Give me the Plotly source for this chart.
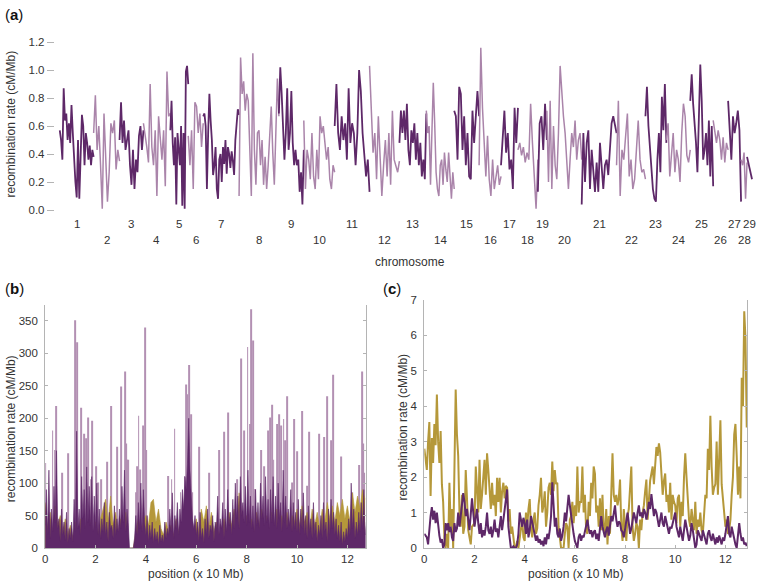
import numpy as np
import plotly.graph_objects as go

W, H = 758, 586
FONT = "Liberation Sans, Arial, sans-serif"
DARK = "#5e2868"
LIGHT = "#aa84aa"
GOLD = "#b5983a"
LAV = "#b390b3"
AXC = "#b4b4b4"
TXT = "#333333"

# ---------------- panel (a): chromosome-wise recombination rate ----------------
chrom_labels = [str(i) for i in range(1, 30)]
chrom_len = [34, 26, 24, 27, 18, 15, 36, 40, 25, 31, 35, 30, 27, 28, 25, 22, 17, 20, 9,
             35, 35, 29, 21, 24, 23, 15, 13, 6, 5]
chr01 = [0.57, 0.50, 0.36, 0.87, 0.64, 0.69, 0.50, 0.62, 0.48, 0.75, 0.55, 0.36, 0.20, 0.09,
         0.50, 0.08, 0.46, 0.68, 0.60, 0.32, 0.55, 0.48, 0.36, 0.46, 0.32, 0.43, 0.38]
chr02 = [0.55, 0.82, 0.43, 0.60, 0.32, 0.01, 0.69, 0.36, 0.06, 0.27, 0.62, 0.55, 0.64, 0.29, 0.43, 0.35]
chr03 = [0.50, 0.77, 0.48, 0.64, 0.43, 0.50, 0.57, 0.32, 0.18, 0.43, 0.15, 0.36, 0.27, 0.53, 0.60, 0.43, 0.57]
chr04 = [0.62, 0.55, 0.45, 0.34, 0.90, 0.45, 0.32, 0.57, 0.10, 0.67, 0.48, 0.36, 0.57, 0.17, 0.99, 0.67, 0.69]
chr05 = [0.57, 0.78, 0.48, 0.32, 0.52, 0.04, 0.55, 0.41, 0.32, 0.60, 0.03, 0.55, 0.01, 0.99, 1.03, 0.90]
chr06 = [0.53, 0.32, 0.57, 0.15, 0.77, 0.74, 0.55, 0.69, 0.45, 0.62]
chr07 = [0.67, 0.69, 0.60, 0.15, 0.55, 0.83, 0.64, 0.50, 0.25, 0.32, 0.45, 0.15, 0.08, 0.36, 0.40,
         0.20, 0.45, 0.33, 0.50, 0.26, 0.45, 0.40, 0.30, 0.42, 0.35, 0.25, 0.50, 0.60, 0.72, 0.68]
chr08 = [0.10, 1.09, 0.83, 0.92, 0.71, 0.83, 0.78, 0.40, 0.10, 1.12, 0.43, 0.18, 0.55, 0.57, 0.32,
         0.50, 0.18, 0.38, 0.15, 0.32, 0.55, 0.74, 0.41, 0.18, 0.55, 0.94, 0.67]
chr09 = [0.69, 1.02, 0.83, 0.57, 0.36, 0.55, 0.87, 0.43, 0.55, 0.85, 0.48, 0.32, 0.43, 0.32, 0.36,
         0.13, 0.27, 0.04, 0.43]
chr10 = [0.64, 0.15, 0.43, 0.36, 0.22, 0.55, 0.24, 0.15, 0.43, 0.22, 0.67, 0.55, 0.60, 0.48, 0.36,
         0.45, 0.22, 0.15, 0.32, 0.27]
chr11 = [0.60, 0.90, 0.55, 0.43, 0.67, 0.50, 0.62, 0.36, 0.87, 0.48, 0.62, 0.55, 0.32, 0.55, 1.00,
         0.85, 0.55, 0.41, 0.24, 0.36, 0.13]
chr12 = [1.03, 0.67, 0.41, 0.55, 0.22, 0.67, 0.32, 0.10, 0.32, 0.50, 0.24, 0.55, 0.18, 0.71, 0.36,
         0.32, 0.27, 0.35]
chr13 = [0.48, 0.71, 0.55, 0.71, 0.50, 0.76, 0.43, 0.32, 0.57, 0.48, 0.62, 0.36, 0.55, 0.32, 0.48,
         0.24, 0.36, 0.22, 0.69]
chr14 = [0.71, 0.55, 0.60, 0.18, 0.55, 0.91, 0.62, 0.27, 0.15, 0.10, 0.32, 0.36, 0.18, 0.41, 0.29,
         0.20, 0.41, 0.24, 0.08, 0.27, 0.15]
chr15 = [0.71, 0.67, 0.36, 0.88, 0.83, 0.43, 0.67, 0.32, 0.55, 0.24, 0.22, 0.71, 0.48, 0.64, 0.85, 0.67]
chr16 = [0.32, 1.16, 0.73, 0.43, 0.24, 0.53, 0.22, 0.10, 0.36, 0.15, 0.22, 0.32, 0.18, 0.24]
chr17 = [0.32, 0.57, 0.71, 0.41, 0.55, 0.29, 0.36, 0.15, 0.73, 0.48, 0.73]
chr18 = [0.43, 0.48, 0.39, 0.45, 0.34, 0.41, 0.36, 0.76, 0.48, 0.22, 0.01, 0.36]
chr19 = [0.13, 0.62, 0.67, 0.43, 0.76, 0.50]
chr20 = [0.71, 0.20, 0.78, 0.15, 0.60, 0.32, 0.22, 0.55, 1.03, 0.83, 0.67, 0.55, 0.32, 0.15, 0.36,
         0.55, 0.45, 0.64, 0.36, 0.50, 0.55, 0.36]
chr21 = [0.04, 0.55, 0.20, 0.48, 0.57, 0.15, 0.43, 0.27, 0.13, 0.34, 0.13, 0.48, 0.27, 0.15, 0.32,
         0.36, 0.25, 0.43, 0.62, 0.67, 0.60, 0.55]
chr22 = [0.32, 0.78, 0.10, 0.43, 0.36, 0.55, 0.69, 0.24, 0.36, 0.15, 0.22, 0.43, 0.64, 0.36, 0.27,
         0.29, 0.22]
chr23 = [0.67, 0.88, 0.60, 0.43, 0.24, 0.15, 0.08, 0.06, 0.36, 0.55, 0.27, 0.81, 0.57, 0.90, 0.48]
chr24 = [0.50, 0.62, 0.24, 0.43, 0.55, 0.27, 0.43, 0.36, 0.20, 0.55, 0.76, 0.67, 0.39, 0.34, 0.43]
chr25 = [0.78, 0.97, 0.76, 0.64, 0.48, 0.27, 0.71, 1.04, 0.78, 0.36, 0.43, 0.55, 0.32, 0.64, 0.24,
         0.60, 0.17]
chr26 = [0.64, 0.55, 0.48, 0.57, 0.50, 0.36, 0.52, 0.34, 0.48, 0.43]
chr27 = [0.78, 0.55, 0.36, 0.67, 0.55, 0.62, 0.71, 0.57, 0.06]
chr28 = [0.36, 0.32, 0.41, 0.08, 0.34]
chr29 = [0.38, 0.30, 0.22]
chrom_rates = [chr01, chr02, chr03, chr04, chr05, chr06, chr07, chr08, chr09, chr10,
               chr11, chr12, chr13, chr14, chr15, chr16, chr17, chr18, chr19, chr20,
               chr21, chr22, chr23, chr24, chr25, chr26, chr27, chr28, chr29]
a_yticks = [0.0, 0.2, 0.4, 0.6, 0.8, 1.0, 1.2]

# ---------------- panel (b): fine-scale rates (step 0.05 x 10 Mb) ----------------
b_step = 0.05
b_dark = [35, 90, 20, 120, 15, 60, 25, 95, 40, 150, 30, 45, 10, 60, 20, 40, 12, 55, 8, 30,
          15, 40, 10, 75, 25, 180, 30, 60, 20, 110, 45, 90, 30, 125, 40, 95, 35, 110, 25, 80,
          30, 100, 20, 60, 15, 45, 25, 70, 20, 40, 10, 55, 30, 35, 15, 65, 20, 45, 25, 60,
          30, 95, 40, 120, 25, 60, 35, 0, 0, 0, 0, 15, 50, 20, 70, 30, 100, 25, 90, 40,
          20, 50, 10, 35, 15, 40, 8, 30, 12, 25, 5, 35, 10, 20, 8, 40, 15, 30, 20, 60,
          25, 85, 15, 50, 30, 70, 20, 60, 40, 90, 60, 110, 90, 130, 200, 120, 80, 45, 30, 50,
          20, 40, 10, 55, 15, 30, 8, 45, 20, 60, 15, 35, 25, 50, 10, 40, 30, 80, 20, 45,
          30, 70, 15, 60, 25, 90, 35, 55, 20, 75, 30, 100, 45, 80, 30, 110, 50, 70, 40, 95,
          35, 120, 40, 80, 30, 65, 25, 90, 35, 70, 30, 100, 45, 80, 35, 110, 40, 75, 30, 90,
          40, 110, 35, 80, 30, 100, 45, 70, 25, 120, 40, 80, 30, 60, 35, 90, 25, 70, 30, 55,
          25, 75, 20, 60, 30, 85, 20, 50, 15, 65, 25, 45, 15, 70, 20, 40, 10, 35, 20, 50,
          15, 70, 25, 40, 10, 60, 20, 75, 30, 55, 20, 45, 15, 35, 10, 40, 5, 25, 10, 30,
          15, 45, 20, 100, 30, 60, 15, 40, 20, 55, 25, 70, 30, 90, 20, 40]
b_gold_step = 0.1
b_gold = [70, 30, 55, 20, 65, 35, 50, 25, 45, 20,
          35, 15, 40, 20, 45, 15, 35, 20, 40, 15,
          40, 20, 45, 60, 75, 40, 80, 35, 55, 25,
          45, 30, 55, 0, 0, 0, 25, 45, 30, 40,
          50, 35, 70, 75, 40, 60, 30, 20, 40, 25,
          35, 20, 45, 25, 40, 20, 35, 25, 40, 20,
          45, 25, 60, 40, 65, 30, 55, 25, 40, 20,
          30, 45, 25, 55, 35, 60, 40, 85, 45, 30,
          50, 30, 45, 25, 55, 35, 60, 30, 50, 25,
          55, 35, 60, 40, 50, 30, 55, 35, 50, 40,
          60, 35, 65, 40, 55, 30, 60, 35, 55, 30,
          60, 40, 70, 45, 65, 40, 70, 50, 75, 45,
          65, 40, 85, 55, 80, 60, 90, 75]
lav_pos = [0.02, 0.30, 0.40, 0.44, 0.67, 0.90, 1.20, 1.26, 1.42, 1.55, 1.62, 1.72, 1.82, 1.88,
           2.02, 2.11, 2.22, 2.45, 2.61, 2.87, 3.03, 3.18, 3.20, 3.26, 3.31, 3.60, 3.64, 3.71,
           3.77, 3.89, 3.97, 4.00, 4.90, 5.02, 5.14, 5.38, 5.54, 5.60, 5.64, 5.71, 5.78, 5.84,
           6.11, 6.50, 6.89, 7.10, 7.26, 7.62, 7.78, 7.89, 8.04, 8.15, 8.18, 8.24, 8.35, 8.57,
           8.68, 8.84, 8.94, 9.01, 9.07, 9.20, 9.30, 9.38, 9.47, 9.54, 9.60, 9.80, 9.90, 10.02,
           10.19, 10.39, 10.48, 10.89, 11.09, 11.18, 11.35, 11.42, 11.75, 12.17, 12.46, 12.57,
           12.61, 12.68]
lav_h = [131, 181, 151, 219, 116, 146, 351, 317, 216, 176, 169, 201, 106, 196,
         126, 101, 106, 133, 219, 156, 249, 272, 161, 136, 136, 86, 126, 204,
         121, 189, 340, 151, 111, 106, 184, 86, 111, 252, 237, 282, 206, 86,
         156, 116, 151, 179, 209, 106, 292, 181, 310, 191, 368, 320, 91, 151,
         126, 181, 201, 221, 136, 191, 206, 189, 199, 166, 234, 101, 199, 149,
         211, 96, 179, 176, 171, 234, 166, 267, 141, 86, 128, 272,
         161, 116]
b_yticks = [0, 50, 100, 150, 200, 250, 300, 350]
pos_ticks = [0, 2, 4, 6, 8, 10, 12]

# ---------------- panel (c): smoothed rates (step 0.05 x 10 Mb) ----------------
c_step = 0.05
c_gold = [2.8, 2.5, 2.2, 3.0, 3.55, 1.47, 3.1, 2.4, 3.5, 2.9, 4.33, 3.0, 2.4, 3.3, 1.8, 1.3, 0.3, 0.0, 0.4, 0.0,
          1.84, 0.6, 1.1, 0.0, 2.0, 4.47, 3.2, 2.6, 1.0, 0.6, 1.5, 0.4, 0.6, 2.2, 1.4, 0.5, 0.3, 0.1, 0.6, 0.65,
          0.7, 2.3, 1.5, 1.0, 2.49, 1.1, 1.5, 2.0, 2.49, 1.5, 2.67, 2.2, 1.5, 1.1, 1.84, 1.2, 1.5, 0.9, 1.98, 1.3,
          1.98, 1.0, 1.6, 1.84, 1.4, 1.75, 1.7, 0.75, 1.1, 0.4, 0.6, 0.3, 0.0, 0.0, 0.2, 0.0, 0.3, 0.55, 0.8, 0.3,
          0.2, 1.0, 0.6, 1.1, 1.38, 0.55, 0.3, 0.8, 1.0, 0.4, 0.55, 1.2, 1.5, 1.98, 1.0, 1.2, 1.6, 0.6, 1.0, 1.7,
          1.84, 1.5, 2.44, 1.6, 2.2, 1.8, 1.84, 0.6, 0.2, 0.0, 0.0, 0.0, 0.4, 0.7, 0.6, 0.0, 0.8, 0.9, 1.3, 0.7,
          1.2, 0.9, 2.3, 1.0, 1.3, 1.3, 2.3, 1.0, 1.5, 0.5, 0.4, 1.3, 0.9, 1.84, 1.4, 2.3, 2.1, 1.0, 1.2, 0.6,
          1.4, 0.5, 1.5, 0.5, 0.4, 1.1, 0.1, 0.9, 0.4, 1.5, 2.67, 1.5, 1.3, 1.5, 1.2, 1.4, 1.93, 0.6, 0.2, 1.1,
          0.6, 0.2, 0.9, 1.1, 1.7, 2.3, 0.6, 0.2, 0.4, 0.7, 0.6, 0.0, 0.8, 0.5, 1.0, 1.2, 1.6, 1.93, 0.8, 1.5,
          1.9, 2.1, 2.3, 1.8, 2.4, 2.85, 2.6, 2.95, 2.7, 2.0, 1.5, 1.9, 2.1, 1.3, 1.5, 1.0, 1.84, 0.8, 1.5, 1.3,
          1.2, 0.7, 1.4, 1.5, 0.6, 1.3, 0.9, 2.0, 2.67, 2.0, 1.2, 0.8, 0.6, 1.1, 0.8, 0.5, 1.3, 0.4, 0.8, 0.6,
          1.0, 0.5, 0.4, 1.1, 1.5, 1.4, 2.8, 2.2, 3.73, 2.3, 1.5, 1.7, 1.8, 3.0, 1.5, 2.5, 3.6, 1.8, 1.4, 1.0,
          0.6, 0.8, 0.4, 0.5, 0.8, 1.5, 2.0, 3.2, 3.5, 2.6, 1.5, 2.3, 1.4, 4.8, 4.0, 6.68, 5.9, 3.4]
c_purple = [0.40, 0.35, 0.30, 0.10, 0.55, 0.90, 1.15, 0.80, 1.05, 0.70, 1.00, 0.60, 0.35, 0.15, 0.25, 0.00, 0.10, 0.70, 0.50, 0.70,
            0.45, 0.60, 0.30, 0.20, 0.70, 0.45, 0.55, 1.00, 0.60, 0.90, 1.20, 1.55, 1.30, 0.90, 1.10, 0.80, 0.50, 0.95, 1.40, 1.00,
            0.60, 0.85, 1.10, 0.70, 0.40, 0.70, 0.30, 0.50, 0.35, 0.60, 1.00, 0.50, 0.40, 0.60, 0.30, 0.50, 0.80, 0.45, 0.55, 0.30,
            0.60, 0.90, 0.50, 0.80, 1.10, 1.30, 1.65, 0.60, 0.20, 0.00, 0.00, 0.05, 0.00, 0.00, 0.10, 0.40, 1.00, 0.80, 0.60, 0.85,
            0.70, 0.40, 0.80, 0.30, 0.50, 0.90, 0.70, 0.60, 0.30, 0.20, 0.35, 0.15, 0.25, 0.10, 0.20, 0.05, 0.30, 0.10, 0.40, 0.25,
            0.50, 0.90, 1.85, 1.00, 0.60, 0.85, 0.40, 0.30, 0.55, 0.20, 0.35, 0.60, 1.00, 0.75, 1.20, 1.50, 1.20, 0.90, 0.60, 0.40,
            0.20, 0.10, 0.00, 0.30, 0.40, 0.20, 0.35, 0.30, 0.45, 0.60, 0.80, 0.55, 0.40, 0.50, 0.30, 0.45, 0.50, 0.25, 0.40, 0.20,
            0.55, 0.90, 0.60, 0.40, 0.30, 0.50, 0.60, 0.35, 0.70, 0.90, 0.75, 1.00, 1.20, 0.80, 0.60, 0.75, 0.70, 0.50, 0.45, 0.30,
            0.55, 0.80, 1.00, 0.70, 0.40, 0.55, 0.80, 1.00, 0.85, 0.70, 1.00, 1.20, 0.90, 1.00, 0.85, 1.10, 1.00, 0.80, 1.00, 1.30,
            1.10, 1.52, 1.20, 0.90, 1.10, 1.00, 0.80, 0.60, 0.80, 1.00, 0.70, 0.60, 0.90, 0.75, 0.60, 0.40, 0.60, 0.55, 0.70, 0.90,
            1.00, 0.60, 0.40, 0.30, 0.60, 0.40, 0.20, 0.50, 0.80, 0.60, 0.40, 0.20, 0.35, 0.70, 0.50, 0.20, 0.00, 0.10, 0.50, 0.40,
            0.30, 0.20, 0.50, 0.35, 0.20, 0.10, 0.40, 0.50, 0.30, 0.20, 0.40, 0.20, 0.10, 0.30, 0.15, 0.35, 0.20, 0.10, 0.30, 0.20,
            0.40, 0.60, 0.90, 0.40, 0.30, 0.60, 0.40, 0.20, 0.10, 0.00, 0.30, 0.70, 0.40, 0.20, 0.30, 0.10, 0.15, 0.05]
c_yticks = [0, 1, 2, 3, 4, 5, 6, 7]


def fx(px):
    return px / W


def fy(py):
    return 1 - py / H


fig = go.Figure()

# panel (a)
starts = np.concatenate([[0], np.cumsum(chrom_len)[:-1]])
for i, vals in enumerate(chrom_rates):
    xs = np.linspace(starts[i], starts[i] + chrom_len[i], len(vals))
    odd = (i % 2 == 0)
    fig.add_trace(go.Scatter(x=xs, y=vals, mode="lines", xaxis="x", yaxis="y",
                             line=dict(color=DARK if odd else LIGHT, width=1.8 if odd else 1.5),
                             showlegend=False, hoverinfo="skip"))

# panel (b)
fig.add_trace(go.Bar(x=lav_pos, y=lav_h, width=0.035, xaxis="x2", yaxis="y2",
                     marker=dict(color=LAV, line=dict(width=0)), showlegend=False))
bg_x = np.arange(len(b_gold)) * b_gold_step
fig.add_trace(go.Scatter(x=bg_x, y=b_gold, mode="lines", fill="tozeroy", xaxis="x2", yaxis="y2",
                         line=dict(color=GOLD, width=0.6), fillcolor=GOLD, showlegend=False))
bd_x = np.arange(len(b_dark)) * b_step
fig.add_trace(go.Scatter(x=bd_x, y=b_dark, mode="lines", fill="tozeroy", xaxis="x2", yaxis="y2",
                         line=dict(color=DARK, width=0.6), fillcolor=DARK, showlegend=False))

# panel (c)
cx = np.arange(len(c_gold)) * c_step
fig.add_trace(go.Scatter(x=cx, y=c_gold, mode="lines", xaxis="x3", yaxis="y3",
                         line=dict(color=GOLD, width=2), showlegend=False))
cpx = np.arange(len(c_purple)) * c_step
fig.add_trace(go.Scatter(x=cpx, y=c_purple, mode="lines", xaxis="x3", yaxis="y3",
                         line=dict(color=DARK, width=2), showlegend=False))

tickfont = dict(family=FONT, size=11.5, color=TXT)
common_frame = dict(showgrid=False, zeroline=False, showline=True, linecolor=AXC, linewidth=1,
                    ticks="inside", ticklen=3, tickcolor=AXC, tickfont=tickfont)

fig.update_layout(
    width=W, height=H, margin=dict(l=0, r=0, t=0, b=0),
    paper_bgcolor="white", plot_bgcolor="white", barmode="overlay",
    font=dict(family=FONT, color=TXT),
    xaxis=dict(domain=[fx(52), fx(755)], range=[-5, 698], showticklabels=False, ticks="",
               showline=False, showgrid=False, zeroline=False, anchor="y"),
    yaxis=dict(domain=[fy(212), fy(33)], range=[-0.026, 1.227], tickvals=a_yticks,
               ticktext=[f"{v:.1f}" for v in a_yticks], ticks="outside", ticklen=7,
               tickcolor=AXC, showline=False, showgrid=False, zeroline=False,
               tickfont=tickfont, anchor="x"),
    xaxis2=dict(domain=[fx(42.3), fx(364)], range=[0, 12.72], tickvals=pos_ticks,
                anchor="y2", mirror=False, **common_frame),
    yaxis2=dict(domain=[fy(553.3), fy(305)], range=[0, 375], tickvals=b_yticks,
                anchor="x2", mirror="ticks", ticklabelstandoff=4, **common_frame),
    xaxis3=dict(domain=[fx(423), fx(747.2)], range=[0, 12.87], tickvals=pos_ticks,
                anchor="y3", mirror=False, **common_frame),
    yaxis3=dict(domain=[fy(553.3), fy(300)], range=[0, 7], tickvals=c_yticks,
                anchor="x3", mirror="ticks", ticklabelstandoff=4, **common_frame),
)

ann = []
# chromosome labels
for i, lab in enumerate(chrom_labels):
    cxm = starts[i] + chrom_len[i] / 2
    ann.append(dict(x=cxm, y=fy(223) if i % 2 == 0 else fy(239), xref="x", yref="paper",
                    text=lab, showarrow=False, font=dict(family=FONT, size=11.5, color=TXT),
                    xanchor="center", yanchor="middle"))
titlefont = dict(family=FONT, size=12, color=TXT)
ann += [
    dict(x=fx(409), y=fy(261), text="chromosome", font=titlefont),
    dict(x=fx(193), y=fy(580), text="position (x 10 Mb)", font=titlefont),
    dict(x=fx(575), y=fy(580), text="position (x 10 Mb)", font=titlefont),
    dict(x=fx(8), y=fy(120), text="recombination rate (cM/Mb)", textangle=-90, font=titlefont),
    dict(x=fx(8), y=fy(431), text="recombination rate (cM/Mb)", textangle=-90, font=titlefont),
    dict(x=fx(402), y=fy(430), text="recombination rate (cM/Mb)", textangle=-90, font=titlefont),
]
for lab, px, py in [("a", 0, 9), ("b", 0, 288), ("c", 379, 288)]:
    ann.append(dict(x=fx(px), y=fy(py), text=f"(<b>{lab}</b>)", xanchor="left",
                    font=dict(family=FONT, size=15, color="#111111")))
for a in ann:
    a.setdefault("xref", "paper")
    a.setdefault("yref", "paper")
    a.setdefault("showarrow", False)
    a.setdefault("xanchor", "center")
    a.setdefault("yanchor", "middle")
fig.update_layout(annotations=ann)

fig.write_html("out.html", config={"displayModeBar": False},
               post_script="document.body.style.margin='0px';document.body.style.padding='0px';")
